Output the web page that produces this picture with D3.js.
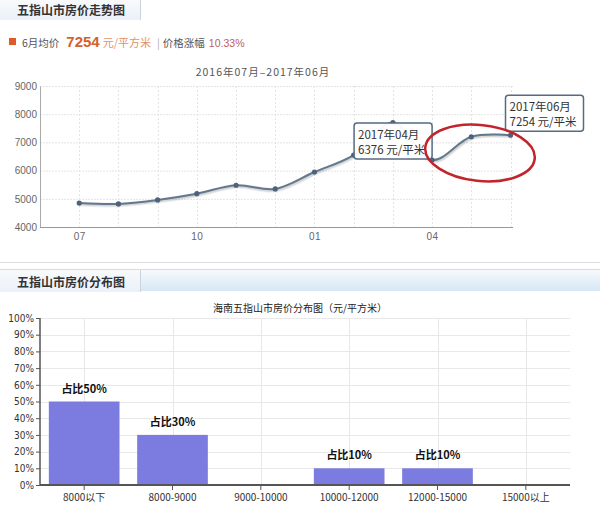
<!DOCTYPE html>
<html>
<head>
<meta charset="utf-8">
<script src="https://cdn.jsdelivr.net/npm/d3@7"></script>
<style>
  html, body { margin: 0; padding: 0; background: #fff; }
  svg { display: block; }
  text { font-family: "Liberation Sans", Arial, "Noto Sans CJK SC", sans-serif; }
  .cjk { font-family: "Noto Sans CJK SC", "Liberation Sans", sans-serif; }
</style>
</head>
<body>
<svg id="chart" width="600" height="506"></svg>
<script>
// ---------- data ----------
const months = ["07","08","09","10","11","12","01","02","03","04","05","06"];
const prices = [4850, 4820, 4960, 5180, 5480, 5350, 5950, 6550, 7700, 6376, 7200, 7254];
const priceTicks = [4000, 5000, 6000, 7000, 8000, 9000];
const monthTickLabels = ["07", "10", "01", "04"];

const ranges = ["8000以下", "8000-9000", "9000-10000", "10000-12000", "12000-15000", "15000以上"];
const shares = [50, 30, 0, 10, 10, 0];
const shareTicks = [0, 10, 20, 30, 40, 50, 60, 70, 80, 90, 100];

const svg = d3.select("#chart");
const defs = svg.append("defs");

// ---------- header 1 ----------
const tabGrad = defs.append("linearGradient").attr("id", "tabg").attr("x1", 0).attr("y1", 0).attr("x2", 0).attr("y2", 1);
tabGrad.append("stop").attr("offset", "0%").attr("stop-color", "#f8fafc");
tabGrad.append("stop").attr("offset", "100%").attr("stop-color", "#eaf1f8");
const barGrad = defs.append("linearGradient").attr("id", "barg").attr("x1", 0).attr("y1", 0).attr("x2", 0).attr("y2", 1);
barGrad.append("stop").attr("offset", "0%").attr("stop-color", "#f7fafd");
barGrad.append("stop").attr("offset", "100%").attr("stop-color", "#d7e7f4");

svg.append("rect").attr("x", 0).attr("y", 0).attr("width", 140).attr("height", 20).attr("fill", "url(#tabg)");
svg.append("line").attr("x1", 140.5).attr("x2", 140.5).attr("y1", 0).attr("y2", 20).attr("stroke", "#c9d4df");
svg.append("text").attr("class", "cjk").attr("x", 17).attr("y", 14.5)
  .attr("font-size", 12).attr("font-weight", "bold").attr("fill", "#333").text("五指山市房价走势图");

// summary line
svg.append("rect").attr("x", 9).attr("y", 38).attr("width", 7).attr("height", 7).attr("fill", "#e0592a");
const sum = svg.append("text").attr("x", 22).attr("y", 46.5).attr("class", "cjk").attr("font-size", 10.5);
sum.append("tspan").attr("fill", "#555").text("6月均价");
sum.append("tspan").attr("dx", 7).attr("fill", "#d2622e").attr("font-size", 15).attr("font-weight", "bold")
  .style("font-family", "Liberation Sans, Arial, sans-serif").text("7254");
sum.append("tspan").attr("dx", 3).attr("fill", "#e4906a").attr("font-size", 11).text("元/平方米");
sum.append("tspan").attr("dx", 6).attr("fill", "#aaa").text("|");
sum.append("tspan").attr("dx", 3).attr("fill", "#555").text("价格涨幅");
sum.append("tspan").attr("dx", 4).attr("fill", "#c0605a").style("font-family", "Liberation Sans, Arial, sans-serif").text("10.33%");

svg.append("text").attr("class", "cjk").attr("x", 263).attr("y", 75.5).attr("text-anchor", "middle")
  .attr("font-size", 10.5).attr("letter-spacing", 1).attr("fill", "#555").text("2016年07月–2017年06月");

// ---------- line chart ----------
const x1 = d3.scaleLinear().domain([-1, months.length - 1]).range([40, 510.5]);
const y1 = d3.scaleLinear().domain([4000, 9000]).range([227, 86]);

const g1 = svg.append("g");
// grid
g1.selectAll(".hg").data(priceTicks).join("line")
  .attr("x1", 40).attr("x2", 513).attr("y1", d => y1(d) + 0.5).attr("y2", d => y1(d) + 0.5)
  .attr("stroke", "#e4e4e4").attr("stroke-dasharray", "2,1");
g1.selectAll(".vg").data(months).join("line")
  .attr("x1", (d, i) => Math.round(x1(i)) + 0.5).attr("x2", (d, i) => Math.round(x1(i)) + 0.5)
  .attr("y1", 86).attr("y2", 227).attr("stroke", "#e4e4e4").attr("stroke-dasharray", "2,2");

// axes
const yAxis1 = d3.axisLeft(y1).tickValues(priceTicks).tickFormat(d3.format("d")).tickSize(0).tickPadding(3);
const ga = g1.append("g").attr("transform", "translate(40,0)").call(yAxis1);
ga.select(".domain").attr("stroke", "#aaa");
ga.selectAll("text").attr("font-size", 10).attr("fill", "#666").attr("dy", "0.32em")
  .style("font-family", "Liberation Sans, Arial, sans-serif");

const xAxis1 = d3.axisBottom(x1)
  .tickValues(months.map((m, i) => i).filter(i => monthTickLabels.includes(months[i])))
  .tickFormat(i => months[i]).tickSize(0).tickPadding(6);
const gx = g1.append("g").attr("transform", "translate(0,227)").call(xAxis1);
gx.select(".domain").attr("stroke", "#999").attr("d", "M40,0.5H513");
gx.selectAll("text").attr("font-size", 10).attr("fill", "#666").attr("letter-spacing", 0.5)
  .style("font-family", "Liberation Sans, Arial, sans-serif");

// line
const line = d3.line().x((d, i) => x1(i)).y(d => y1(d)).curve(d3.curveCatmullRom.alpha(0.5));
g1.append("path").attr("d", line(prices)).attr("fill", "none").attr("stroke", "#000")
  .attr("stroke-opacity", 0.06).attr("stroke-width", 5).attr("transform", "translate(1,1)");
g1.append("path").attr("d", line(prices)).attr("fill", "none").attr("stroke", "#000")
  .attr("stroke-opacity", 0.1).attr("stroke-width", 3).attr("transform", "translate(1,1)");
g1.append("path").attr("d", line(prices)).attr("fill", "none").attr("stroke", "#62788f").attr("stroke-width", 2);
g1.selectAll(".pt").data(prices).join("circle")
  .attr("cx", (d, i) => x1(i)).attr("cy", d => y1(d)).attr("r", 2.6).attr("fill", "#4f6279");

// tooltips
function tooltip(i, dx, dy, lines) {
  const bx = x1(i) + dx, by = y1(prices[i]) + dy;
  const t = g1.append("g");
  t.append("rect").attr("x", bx).attr("y", by).attr("width", 78).attr("height", 36).attr("rx", 3)
    .attr("fill", "#fff").attr("fill-opacity", 0.95).attr("stroke", "#556b83").attr("stroke-width", 1.5);
  lines.forEach((s, k) => t.append("text").attr("class", "cjk").attr("x", bx + 4).attr("y", by + 16 + k * 15)
    .attr("font-size", 11.5).attr("fill", "#333").text(s));
}
tooltip(9, -78, -37, ["2017年" + months[9] + "月", prices[9] + " 元/平米"]);
tooltip(11, -5, -40, ["2017年" + months[11] + "月", prices[11] + " 元/平米"]);

// red annotation ellipse
g1.append("ellipse").attr("cx", 480).attr("cy", 153).attr("rx", 55).attr("ry", 28)
  .attr("transform", "rotate(6,480,153)")
  .attr("fill", "none").attr("stroke", "#c2242c").attr("stroke-width", 2.5);

// ---------- header 2 ----------
svg.append("line").attr("x1", 0).attr("x2", 600).attr("y1", 262.5).attr("y2", 262.5).attr("stroke", "#dcdcdc");
svg.append("rect").attr("x", 0).attr("y", 269).attr("width", 600).attr("height", 22).attr("fill", "url(#barg)");
svg.append("line").attr("x1", 0).attr("x2", 600).attr("y1", 269.5).attr("y2", 269.5).attr("stroke", "#d4dde6");
svg.append("rect").attr("x", 0).attr("y", 270).attr("width", 140).attr("height", 22).attr("fill", "url(#tabg)");
svg.append("line").attr("x1", 140.5).attr("x2", 140.5).attr("y1", 270).attr("y2", 292).attr("stroke", "#c9d4df");
svg.append("text").attr("class", "cjk").attr("x", 17).attr("y", 286.5)
  .attr("font-size", 12).attr("font-weight", "bold").attr("fill", "#333").text("五指山市房价分布图");

svg.append("text").attr("class", "cjk").attr("x", 300).attr("y", 311.5).attr("text-anchor", "middle")
  .attr("font-size", 10).attr("fill", "#222").text("海南五指山市房价分布图（元/平方米）");

// ---------- bar chart ----------
const x2 = d3.scaleBand().domain(ranges).range([40, 570]).paddingInner(0.2).paddingOuter(0.1);
const y2 = d3.scaleLinear().domain([0, 100]).range([485, 318]);
const g2 = svg.append("g");
const barData = ranges.map((r, i) => ({ range: r, share: shares[i] }));

g2.selectAll(".hg2").data(shareTicks.slice(1)).join("line")
  .attr("x1", 40).attr("x2", 570).attr("y1", d => Math.round(y2(d)) + 0.5).attr("y2", d => Math.round(y2(d)) + 0.5)
  .attr("stroke", "#e8e8e8");
g2.selectAll(".vg2").data(ranges).join("line")
  .attr("x1", d => Math.round(x2(d) + x2.bandwidth() / 2) + 0.5).attr("x2", d => Math.round(x2(d) + x2.bandwidth() / 2) + 0.5)
  .attr("y1", 318).attr("y2", 485).attr("stroke", "#e8e8e8");

g2.selectAll(".bar").data(barData).join("rect")
  .attr("x", d => x2(d.range)).attr("width", x2.bandwidth())
  .attr("y", d => y2(d.share)).attr("height", d => y2(0) - y2(d.share))
  .attr("fill", "#7b7be0");

const yAxis2 = d3.axisLeft(y2).tickValues(shareTicks).tickFormat(d => d + "%").tickSize(4).tickPadding(2);
const gy2 = g2.append("g").attr("transform", "translate(40,0)").call(yAxis2);
gy2.select(".domain").attr("stroke", "#555").attr("stroke-width", 1.5).attr("d", "M0,318V485");
gy2.selectAll(".tick line").attr("stroke", "#555");
gy2.selectAll("text").attr("font-size", 10).attr("fill", "#333")
  .style("font-family", "DejaVu Sans Condensed, Liberation Sans, sans-serif");

const xAxis2 = d3.axisBottom(x2).tickSize(5).tickPadding(4);
const gx2 = g2.append("g").attr("transform", "translate(0,485)").call(xAxis2);
gx2.select(".domain").attr("stroke", "#555").attr("stroke-width", 2).attr("d", "M40,0H570");
gx2.selectAll(".tick line").attr("stroke", "#555");
gx2.selectAll("text").attr("class", "cjk").attr("font-size", 10).attr("fill", "#333");

g2.selectAll(".lbl").data(barData.filter(d => d.share > 0)).join("text")
  .attr("class", "cjk")
  .attr("x", d => x2(d.range) + x2.bandwidth() / 2)
  .attr("y", d => y2(d.share) - 9)
  .attr("text-anchor", "middle").attr("font-size", 11).attr("font-weight", "bold").attr("fill", "#111")
  .text(d => "占比" + d.share + "%");
</script>
</body>
</html>
